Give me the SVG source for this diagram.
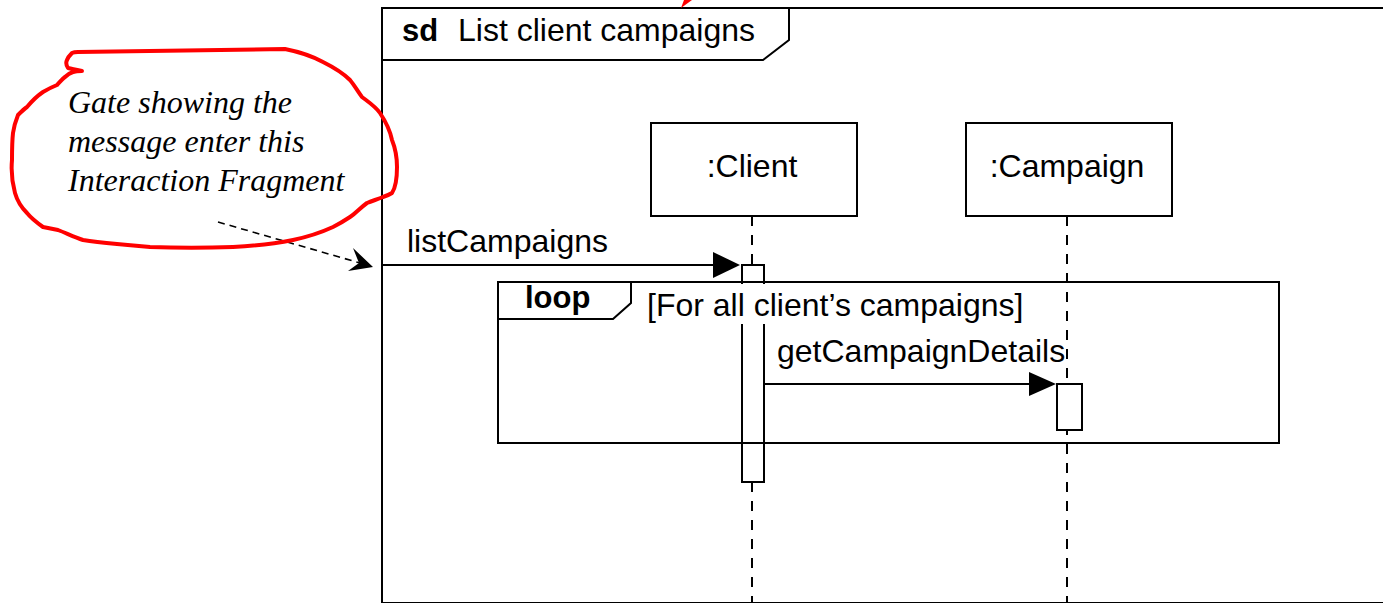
<svg xmlns="http://www.w3.org/2000/svg" width="1383" height="603" viewBox="0 0 1383 603">
<style>
.ln{fill:none;stroke:#000;stroke-width:2}
.box{fill:#fff;stroke:#000;stroke-width:2}
.life{fill:none;stroke:#000;stroke-width:2;stroke-dasharray:10 9}
.t{font-family:"Liberation Sans",Arial,sans-serif;fill:#000}
.b{font-weight:bold}
.note{font-family:"Liberation Serif","Times New Roman",serif;font-style:italic;font-size:32px;fill:#000}
</style>
<rect width="1383" height="603" fill="#fff"/>
<g id="frame">
<rect x="382" y="8" width="1010" height="595" class="ln"/>
<path d="M382 60 H763 L789 40 V8" class="ln"/>
<text x="402" y="41" class="t b" font-size="31">sd</text>
<text x="458" y="41" class="t" font-size="32">List client campaigns</text>
</g>
<polygon points="681,8 684,0 692,0" fill="#f00"/>
<g id="lifelines">
<line x1="752" y1="216" x2="752" y2="603" class="life"/>
<line x1="1067" y1="216" x2="1067" y2="603" class="life"/>
</g>
<g id="client">
<rect x="651" y="123" width="206" height="93" class="box"/>
<text x="752" y="177" class="t" font-size="32" text-anchor="middle">:Client</text>
</g>
<g id="campaign">
<rect x="966" y="123" width="206" height="93" class="box"/>
<text x="1067" y="177" class="t" font-size="32" text-anchor="middle">:Campaign</text>
</g>
<g id="activations">
<rect x="742" y="265" width="22" height="217" class="box"/>
<rect x="1057" y="384" width="25" height="46" class="box"/>
</g>
<g id="loop">
<rect x="498" y="282" width="781" height="161" class="ln"/>
<path d="M498 319 H613 L631 303 V282" class="ln"/>
<text x="525" y="308" class="t b" font-size="31">loop</text>
<rect x="640" y="284" width="390" height="40" fill="#fff"/>
<text x="647" y="316" class="t" font-size="32">[For all client’s campaigns]</text>
</g>
<g id="connectors">
<line x1="382" y1="265" x2="716" y2="265" class="ln"/>
<polygon points="713,252 740,265 713,278" fill="#000"/>
<text x="407" y="252" class="t" font-size="32">listCampaigns</text>
<line x1="765" y1="384" x2="1032" y2="384" class="ln"/>
<polygon points="1029,372 1056,384 1029,396" fill="#000"/>
<text x="777" y="362" class="t" font-size="32">getCampaignDetails</text>
<line x1="218" y1="222" x2="360" y2="263" fill="none" stroke="#000" stroke-width="1.6" stroke-dasharray="7 5"/>
<polygon points="373,267 353,248 359,263 348,271" fill="#000"/>
</g>
<g id="note">
<path d="M78 52 L285 49 C300 52 312 56 323 62 C335 68 343 73 350 80 C355 86 358 92 362 97 C370 103 376 107 380 113 C386 122 390 130 392 140 C396 150 397 158 397 167 C397 178 396 187 392 193 C389 195 386 196 383 197 C378 199 372 201 367 203 C360 208 356 213 350 217 C344 221 339 224 333 227 C320 233 307 237 293 240 C273 244 253 246 233 247 C205 248 178 248 150 247 C138 246 128 245 117 244 C105 243 94 242 83 240 C74 237 66 233 58 230 C53 229 48 228 43 227 C36 222 31 218 27 213 C21 207 17 200 15 193 C12 182 11 171 12 160 C12 151 12 142 13 133 C14 126 16 120 18 115 C21 112 24 109 27 107 C32 101 37 96 43 92 C48 89 52 87 57 85 C60 82 62 79 65 77 C68 74 70 73 73 72 C76 71 79 71 82 71 C77 70 72 69 68 68 C66 65 66 62 67 60 C68 57 70 55 72 53 C74 52 76 52 78 52 Z" fill="none" stroke="#f00" stroke-width="4" stroke-linejoin="round"/>
<text x="68" y="113" class="note">Gate showing the</text>
<text x="68" y="152" class="note">message enter this</text>
<text x="68" y="191" class="note">Interaction Fragment</text>
</g>
</svg>
